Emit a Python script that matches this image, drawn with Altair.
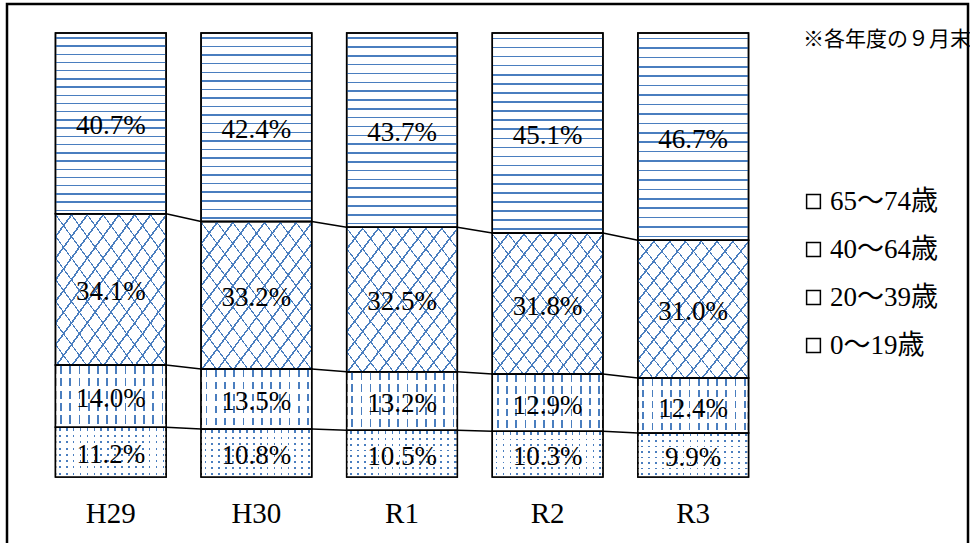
import altair as alt
import pandas as pd

# ---- data ----
years = ["H29", "H30", "R1", "R2", "R3"]
ages = ["0〜19歳", "20〜39歳", "40〜64歳", "65〜74歳"]  # bottom -> top
v_0_19 = [11.2, 10.8, 10.5, 10.3, 9.9]
v_20_39 = [14.0, 13.5, 13.2, 12.9, 12.4]
v_40_64 = [34.1, 33.2, 32.5, 31.8, 31.0]
v_65_74 = [40.7, 42.4, 43.7, 45.1, 46.7]
note_text = "※各年度の９月末"

series = [v_0_19, v_20_39, v_40_64, v_65_74]
rows = []
for a_i, (age, vals) in enumerate(zip(ages, series)):
    for y_i, (yr, v) in enumerate(zip(years, vals)):
        rows.append({"year": yr, "yi": y_i, "age": age, "order": a_i, "value": v})
df = pd.DataFrame(rows)

# ---- styles ----
BLUE = "#4a7ebf"
CLEAR = "rgba(255,255,255,0)"
SERIF = "Liberation Serif, Noto Sans CJK JP"
CJK = "Noto Sans CJK JP"


def stripes(n, frac, x1, y1, x2, y2, color=BLUE, bg=CLEAR, phase=0.0):
    stops = [{"offset": 0, "color": bg}]
    for k in range(n):
        s = (k + phase) / n
        e = min(s + frac, 1.0)
        stops += [
            {"offset": s, "color": bg},
            {"offset": s, "color": color},
            {"offset": e, "color": color},
            {"offset": e, "color": bg},
        ]
    stops.append({"offset": 1, "color": bg})
    return {"gradient": "linear", "x1": x1, "y1": y1, "x2": x2, "y2": y2, "stops": stops}


base = alt.Chart(df).transform_stack(
    stack="value",
    groupby=["year"],
    as_=["y0", "y1"],
    offset="normalize",
    sort=[alt.SortField("order", order="ascending")],
)

XSCALE = alt.Scale(domain=years, paddingInner=0.24, paddingOuter=0.12)
xenc = alt.X(
    "year:N",
    scale=XSCALE,
    axis=alt.Axis(
        title=None, ticks=False, domain=False, labelAngle=0,
        labelFont=SERIF, labelFontSize=29, labelColor="black", labelPadding=22,
    ),
)
yenc = alt.Y("y0:Q", scale=alt.Scale(domain=[0, 1]), axis=None)
y2enc = alt.Y2("y1:Q")

legend_order = list(reversed(ages))

base_bars = base.mark_bar(stroke="black", strokeWidth=1.5).encode(
    x=xenc, y=yenc, y2=y2enc,
    fill=alt.Fill(
        "age:N",
        scale=alt.Scale(domain=legend_order, range=["white"] * 4),
        legend=alt.Legend(
            title=None, orient="none", legendX=762, legendY=155,
            symbolType="square", symbolSize=190, symbolStrokeWidth=1.5,
            labelFont=SERIF, labelFontSize=27, labelColor="black",
            rowPadding=20, labelOffset=3,
        ),
    ),
)


def pattern(age, grad):
    return base.transform_filter(alt.datum.age == age).mark_bar(fill=grad).encode(
        x=xenc, y=yenc, y2=y2enc
    )


layers = [base_bars]
# 65-74: horizontal lines
layers.append(pattern(ages[3], stripes(22, 0.008, 0, 0, 0, 1, phase=0.5)))
# 40-64: diagonal lattice
layers.append(pattern(ages[2], stripes(14, 0.009, 0, 0, 1, 1)))
layers.append(pattern(ages[2], stripes(14, 0.006, 1, 0, 0, 1)))
# 20-39: dashed vertical lines
layers.append(pattern(ages[1], stripes(12, 0.016, 0, 0, 1, 0, phase=0.5)))
layers.append(pattern(ages[1], stripes(5, 0.07, 0, 0, 0, 1, color="white", phase=0.7)))
# 0-19: dots
layers.append(pattern(ages[0], stripes(16, 0.015, 0, 0, 1, 0, phase=0.5)))
layers.append(pattern(ages[0], stripes(8, 0.086, 0, 0, 0, 1, color="white", phase=0.6)))

# outlines
layers.append(
    base.mark_bar(fill="transparent", stroke="black", strokeWidth=1.5).encode(
        x=xenc, y=yenc, y2=y2enc
    )
)

# series lines connecting segment boundaries
lines = (
    base.transform_window(
        window=[
            alt.WindowFieldDef(op="lead", field="y1", **{"as": "ny1"}),
            alt.WindowFieldDef(op="lead", field="year", **{"as": "nyear"}),
        ],
        groupby=["age"],
        sort=[alt.SortField("yi", order="ascending")],
    )
    .transform_filter("datum.nyear != null && datum.order < 3")
    .mark_rule(color="black", strokeWidth=1.5)
    .encode(
        x=alt.X("year:N", bandPosition=1, scale=XSCALE),
        x2=alt.X2(field="nyear", bandPosition=0),
        y=alt.Y("y1:Q", scale=alt.Scale(domain=[0, 1]), axis=None),
        y2=alt.Y2("ny1:Q"),
    )
)
layers.append(lines)

# percentage labels
labels = (
    base.transform_calculate(
        ym="(datum.y0 + datum.y1) / 2",
        label="format(datum.value, '.1f') + '%'",
    )
    .mark_text(font=SERIF, fontSize=27, color="black", baseline="middle", dy=3)
    .encode(
        x=alt.X("year:N", scale=XSCALE),
        y=alt.Y("ym:Q", scale=alt.Scale(domain=[0, 1]), axis=None),
        text="label:N",
    )
)
layers.append(labels)

one = alt.Chart(pd.DataFrame({"note": [note_text]}))
note = one.mark_text(font=CJK, fontSize=21, color="black", align="left", baseline="middle").encode(
    x=alt.value(765), y=alt.value(7), text="note:N"
)
frame = one.mark_rect(fill="transparent", stroke="black", strokeWidth=2.5).encode(
    x=alt.value(-31), x2=alt.value(930), y=alt.value(-29), y2=alt.value(600)
)
layers += [note, frame]

chart = (
    alt.layer(*layers)
    .properties(
        width=728,
        height=444,
        padding={"left": 38, "top": 33, "right": 204, "bottom": 66},
        autosize=alt.AutoSizeParams(type="none"),
        background="white",
    )
    .configure_view(stroke=None)
)

chart.save("out.html", embed_options={"renderer": "svg", "actions": False})
